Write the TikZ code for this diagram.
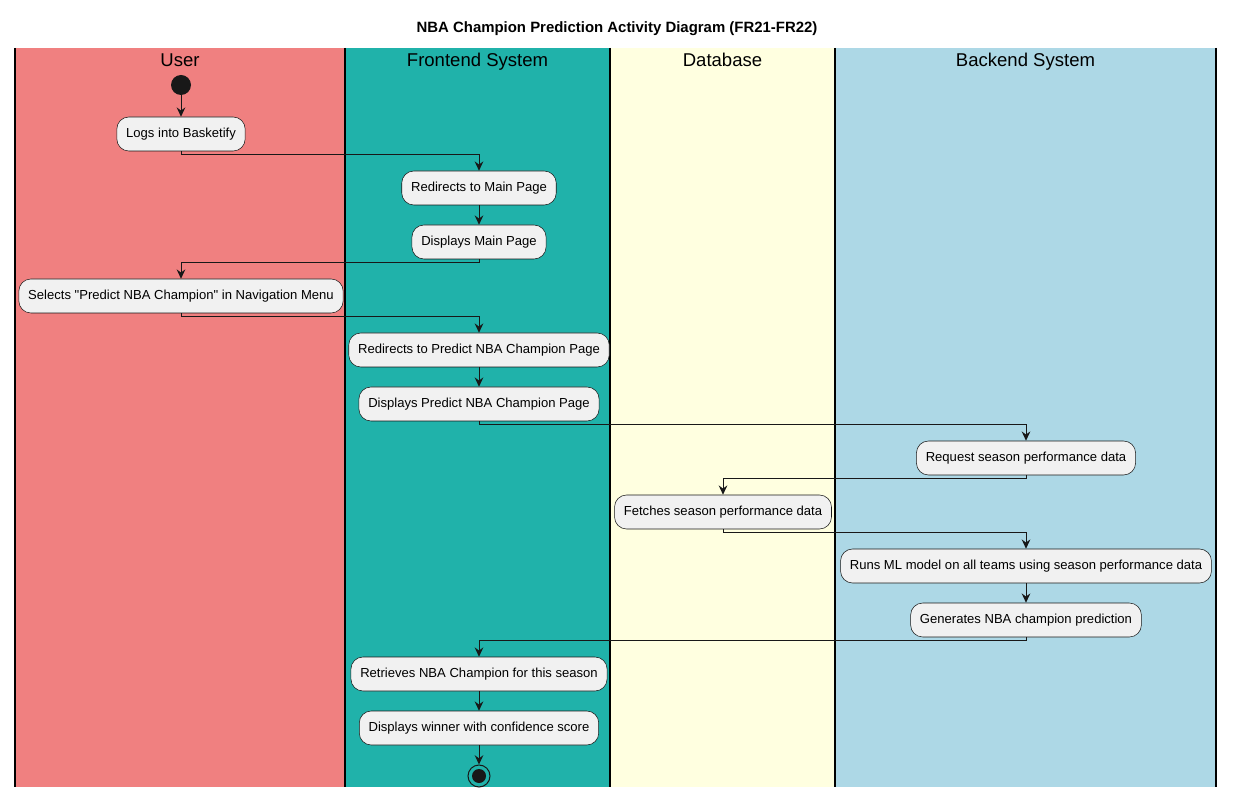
\documentclass[tikz,border=0pt]{standalone}
\usepackage{fontspec}
\setmainfont{Liberation Sans}[Ligatures=TeXOff]
\usetikzlibrary{arrows.meta}
\definecolor{usercol}{HTML}{F08080}
\definecolor{frontcol}{HTML}{20B2AA}
\definecolor{dbcol}{HTML}{FFFFE0}
\definecolor{backcol}{HTML}{ADD8E6}
\definecolor{boxfill}{HTML}{F1F1F1}
\definecolor{boxline}{HTML}{181818}
\definecolor{flowcol}{HTML}{181818}
\begin{document}
\begin{tikzpicture}[x=0.75pt, y=-0.75pt,
    activity/.style={rectangle, rounded corners=9pt, draw=boxline, fill=boxfill, line width=0.4pt,
        minimum height=25.5pt, inner xsep=7pt, font=\fontsize{9.8}{11}\selectfont},
    flow/.style={->, draw=flowcol, line width=0.75pt},
    >={Stealth[length=7pt, width=6.5pt, inset=2.4pt]}]
    \useasboundingbox[fill=white] (0,0) rectangle (1235,798);
    % Title
    \node[font=\bfseries\fontsize{11.2}{13}\selectfont] (Title) at (617,29) {NBA Champion Prediction Activity Diagram (FR21-FR22)};
    % Swimlanes
    \foreach \lx/\rx/\col/\name/\i in {15/345/usercol/User/1, 345/610/frontcol/Frontend System/2,
        610/835/dbcol/Database/3, 835/1216/backcol/Backend System/4} {
        \fill[\col] (\lx,48) rectangle (\rx,787);
        \node[font=\fontsize{13.9}{16}\selectfont, anchor=base] (Lane-\i) at ({(\lx+\rx)/2},67) {\name};
    }
    \foreach \x in {15,345,610,835,1216} {
        \draw[line width=1.1pt] (\x,48) -- (\x,787);
    }
    % Start
    \node[circle, fill=boxline, minimum size=15pt, inner sep=0pt] (Start) at (181,85) {};
    % Activities
    \node[activity] (Act-1) at (181,134) {Logs into Basketify};
    \node[activity] (Act-2) at (479,188) {Redirects to Main Page};
    \node[activity] (Act-3) at (479,242) {Displays Main Page};
    \node[activity] (Act-4) at (181,296) {Selects "Predict NBA Champion" in Navigation Menu};
    \node[activity] (Act-5) at (479,350) {Redirects to Predict NBA Champion Page};
    \node[activity] (Act-6) at (479,404) {Displays Predict NBA Champion Page};
    \node[activity] (Act-7) at (1026,458) {Request season performance data};
    \node[activity] (Act-8) at (723,512) {Fetches season performance data};
    \node[activity] (Act-9) at (1026,566) {Runs ML model on all teams using season performance data};
    \node[activity] (Act-10) at (1026,620) {Generates NBA champion prediction};
    \node[activity] (Act-11) at (479,674) {Retrieves NBA Champion for this season};
    \node[activity] (Act-12) at (479,728) {Displays winner with confidence score};
    % End
    \node[circle, draw=boxline, line width=0.75pt, minimum size=16.5pt, inner sep=0pt] (End) at (479,776) {};
    \node[circle, fill=boxline, minimum size=10.5pt, inner sep=0pt] (End-dot) at (End) {};
    % Arrows
    \draw[flow] (Start) -- (Act-1);
    \foreach \i/\j in {2/3, 5/6, 9/10, 11/12} {
        \draw[flow] (Act-\i) -- (Act-\j);
    }
    \foreach \i/\j in {1/2, 3/4, 4/5, 6/7, 7/8, 8/9, 10/11} {
        \draw[flow] (Act-\i.south) -- ++(0,3) -| (Act-\j.north);
    }
    \draw[flow] (Act-12) -- (End);
\end{tikzpicture}
\end{document}
